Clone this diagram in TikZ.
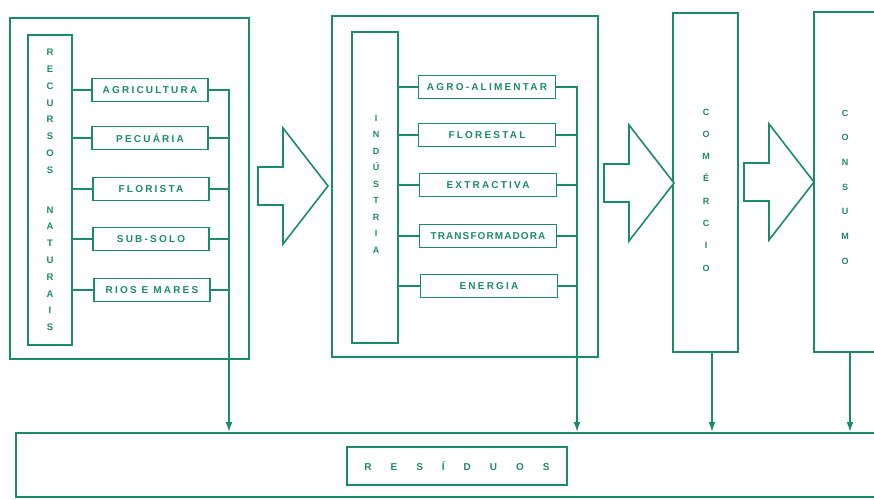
\documentclass[tikz,border=0pt]{standalone}
\usepackage{fontspec}
\setsansfont{Liberation Sans}
\newfontfamily\rotfont{Liberation Sans}[LetterSpace=22]
\newfontfamily\rotfontb{Liberation Sans}[LetterSpace=11]
\newfontfamily\resfont{Liberation Sans}[LetterSpace=190]
\usepackage{tikz}
\usetikzlibrary{arrows.meta,positioning,calc}
\definecolor{verde}{RGB}{28,138,108}

\begin{document}
\begin{tikzpicture}[x=1pt, y=-1pt,
    caixa/.style={draw=verde, line width=1.6pt},
    ramo/.style={caixa, minimum height=23, inner sep=0pt, text=verde, font=\rotfont\bfseries\fontsize{10}{10}\selectfont},
    vert/.style={align=center, text=verde, inner sep=0pt},
    liga/.style={verde, line width=1.6pt},
    seta/.style={liga, -{Latex[length=10pt,width=7pt]}},
    flecha/.pic={\draw[liga, fill=white] (0,-19) -- (25,-19) -- (25,-58) -- (70,0) -- (25,58) -- (25,19) -- (0,19) -- cycle;}]
  \clip (0,0) rectangle (874,499);
  \fill[white] (0,0) rectangle (874,499);

  % recursos naturais
  \draw[caixa] (10,18) rectangle (249,359);
  \node[caixa, vert, minimum width=44, minimum height=310, font=\bfseries\sffamily\fontsize{9.5}{16.8}\selectfont] (recv) at (50,190)
    {R\\E\\C\\U\\R\\S\\O\\S\\[23pt]N\\A\\T\\U\\R\\A\\I\\S};
  \node[ramo, minimum width=116] (agri) at (150,90) {AGRICULTURA};
  \node[ramo, minimum width=116] (pecu) at (150,138) {PECUÁRIA};
  \node[ramo, minimum width=116] (flori) at (151,189) {FLORISTA};
  \node[ramo, minimum width=116] (subsolo) at (151,239) {SUB-SOLO};
  \node[ramo, minimum width=116] (rios) at (152,290) {RIOS E MARES};

  % industria
  \draw[caixa] (332,16) rectangle (598,357);
  \node[caixa, vert, minimum width=46, minimum height=311] (indv) at (375,187.5) {};
  \node[vert, font=\bfseries\sffamily\fontsize{9}{16.5}\selectfont] (indtxt) at (376,184) {I\\N\\D\\Ú\\S\\T\\R\\I\\A};
  \node[ramo, minimum width=137] (agro) at (487,87) {AGRO-ALIMENTAR};
  \node[ramo, minimum width=137] (flore) at (487,135) {FLORESTAL};
  \node[ramo, minimum width=137] (extr) at (488,185) {EXTRACTIVA};
  \node[ramo, minimum width=137, font=\rotfontb\bfseries\fontsize{10}{10}\selectfont] (transf) at (488,236) {TRANSFORMADORA};
  \node[ramo, minimum width=137] (energ) at (489,286) {ENERGIA};

  % comercio e consumo
  \node[caixa, minimum width=65, minimum height=339] (com) at (705.5,182.5) {};
  \node[vert, font=\bfseries\sffamily\fontsize{9}{22.3}\selectfont] (comtxt) at (706,190) {C\\O\\M\\É\\R\\C\\I\\O};
  \node[caixa, minimum width=90, minimum height=340, anchor=north west] (cons) at (813,11) {};
  \node[vert, font=\bfseries\sffamily\fontsize{9}{24.7}\selectfont] (constxt) at (845,187) {C\\O\\N\\S\\U\\M\\O};

  % residuos
  \node[caixa, minimum width=880, minimum height=64, anchor=north west] (resbox) at (15,432) {};
  \node[caixa, minimum width=220, minimum height=38, text=verde, font=\resfont\bfseries\fontsize{10}{10}\selectfont] (res) at (457,466) {RESÍDUOS};

  \pic at (258,186) {flecha};
  \pic at (604,183) {flecha};
  \pic at (744,182) {flecha};

  \coordinate (b1) at (229,0);
  \coordinate (b2) at (577,0);
  \coordinate (b3) at (712,0);
  \coordinate (b4) at (850,0);

  \foreach \n in {agri,pecu,flori,subsolo,rios}
    \draw[liga] (\n.west -| recv.east) -- (\n.west);
  \foreach \n in {pecu,flori,subsolo,rios}
    \draw[liga] (\n.east) -- (\n.east -| b1);
  \draw[seta] (agri.east) -| (b1 |- resbox.north);

  \foreach \n in {agro,flore,extr,transf,energ}
    \draw[liga] (\n.west -| indv.east) -- (\n.west);
  \foreach \n in {flore,extr,transf,energ}
    \draw[liga] (\n.east) -- (\n.east -| b2);
  \draw[seta] (agro.east) -| (b2 |- resbox.north);

  \draw[seta] (b3 |- com.south) -- (b3 |- resbox.north);
  \draw[seta] (b4 |- cons.south) -- (b4 |- resbox.north);
\end{tikzpicture}
\end{document}
